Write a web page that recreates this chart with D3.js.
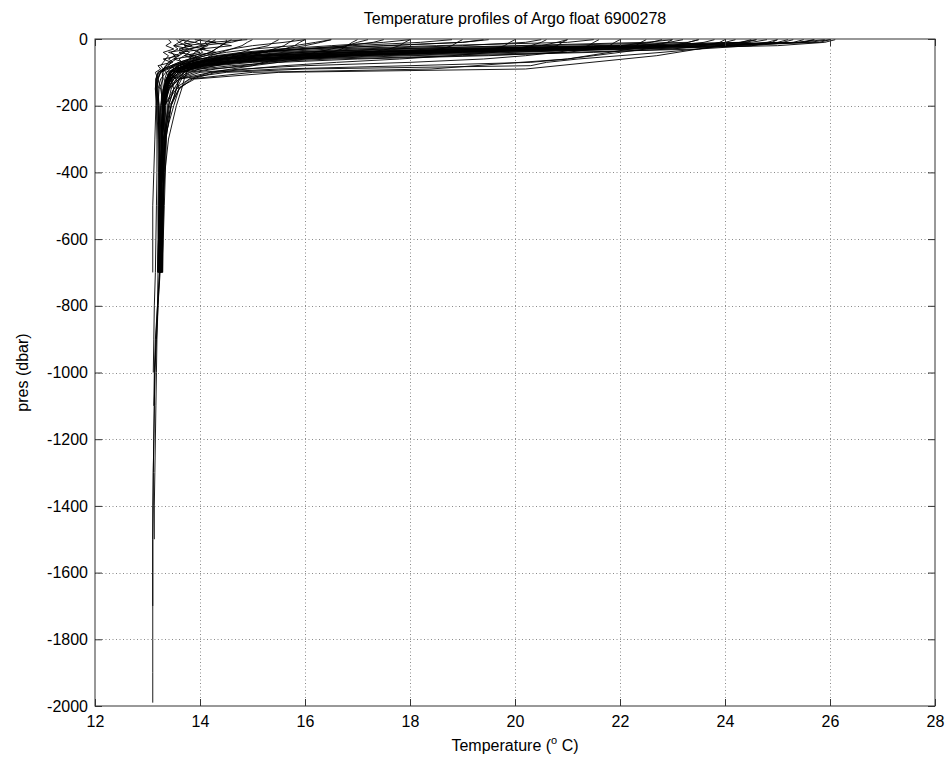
<!DOCTYPE html>
<html><head><meta charset="utf-8">
<script src="https://cdn.jsdelivr.net/npm/d3@7"></script>
<style>body{margin:0;background:#fff} text{font-family:"Liberation Sans",Arial,Helvetica,sans-serif}</style>
</head><body><svg id="c" width="950" height="767"></svg>
<script>
// pressure levels (dbar) of the sampled points, drawn as negative pressure
const pressureLevels = [2, 10, 20, 30, 40, 50, 60, 70, 80, 90, 100, 120, 150, 200, 300, 400, 500, 600, 700];
const deepLevels = [800, 900, 1000, 1100, 1200, 1300, 1400, 1500, 1600, 1700, 1800, 1900, 1990];
const xTicks = [12, 14, 16, 18, 20, 22, 24, 26, 28];
const yTicks = [0, -200, -400, -600, -800, -1000, -1200, -1400, -1600, -1800, -2000];

// temperature (deg C) at pressureLevels; null = level not sampled
const summerProfiles = [
  [26.0, 25.8, 24.0, 20.5, 17.5, 15.8, 14.8, 14.2, 13.8, 13.6, 13.5, 13.4, 13.35, 13.3, 13.28, 13.27, 13.26, 13.25, 13.24],
  [25.7, 25.5, 22.5, 19.0, 16.8, 15.2, 14.5, 14.0, 13.7, 13.5, 13.45, 13.38, 13.32, 13.3, 13.27, 13.26, 13.25, 13.24, 13.23],
  [25.2, 25.0, 24.2, 21.0, 18.0, 16.0, 15.0, 14.3, 13.9, 13.7, 13.55, 13.42, 13.35, 13.31, 13.29, 13.27, 13.26, 13.25, 13.24],
  [24.8, 24.5, 23.0, 20.0, 17.0, 15.5, 14.6, 14.1, 13.8, 13.6, 13.5, 13.4, 13.33, 13.3, 13.28, 13.27, 13.26, 13.25, 13.25],
  [24.5, 24.3, 21.5, 18.5, 16.5, 15.2, 14.4, 13.9, 13.7, 13.55, 13.45, 13.38, 13.32, 13.29, 13.27, 13.26, 13.25, 13.24, 13.23],
  [26.1, 25.9, 25.0, 22.0, 19.0, 16.8, 15.5, 14.6, 14.0, 13.7, 13.55, 13.45, 13.36, 13.31, 13.28, 13.27, 13.26, 13.25, 13.24],
  [23.8, 23.6, 23.0, 21.0, 18.5, 16.5, 15.2, 14.4, 13.9, 13.65, 13.5, 13.4, 13.34, 13.3, 13.28, 13.27, 13.26, 13.25, 13.24],
  [23.5, 23.3, 20.5, 17.5, 15.8, 14.8, 14.2, 13.9, 13.7, 13.55, 13.45, 13.38, 13.32, 13.29, 13.27, 13.26, 13.25, 13.24, 13.24],
  [25.5, 25.3, 24.5, 22.5, 19.5, 17.0, 15.5, 14.6, 14.0, 13.7, 13.55, 13.42, 13.35, 13.3, 13.28, 13.27, 13.26, 13.25, 13.24],
  [24.2, 24.0, 23.5, 21.5, 18.0, 15.8, 14.8, 14.2, 13.85, 13.65, 13.5, 13.4, 13.33, 13.3, 13.28, 13.27, 13.26, 13.25, 13.24],
  [26.0, 25.6, 23.0, 19.5, 17.0, 15.5, 14.6, 14.1, 13.8, 13.6, 13.5, 13.4, 13.33, 13.3, 13.28, 13.27, 13.26, 13.25, 13.24],
  [22.8, 22.6, 22.0, 19.0, 16.5, 15.0, 14.3, 13.9, 13.7, 13.55, 13.45, 13.38, 13.32, 13.29, 13.27, 13.26, 13.25, 13.24, 13.23],
  [24.0, 23.9, 23.6, 23.0, 21.5, 19.0, 16.5, 15.0, 14.3, 13.9, 13.65, 13.45, 13.36, 13.3, 13.28, 13.27, 13.26, 13.25, 13.24],
  [25.0, 24.9, 24.5, 23.5, 21.0, 18.0, 16.0, 14.8, 14.1, 13.8, 13.6, 13.45, 13.36, 13.3, 13.28, 13.27, 13.26, 13.25, 13.24],
  [25.9, 25.4, 24.0, 21.8, 18.8, 16.2, 15.0, 14.4, 13.9, 13.65, 13.5, 13.4, 13.33, 13.3, 13.28, 13.27, 13.26, 13.25, 13.24],
  [24.6, 24.4, 22.0, 18.0, 16.0, 15.0, 14.4, 14.0, 13.75, 13.6, 13.48, 13.39, 13.33, 13.3, 13.27, 13.26, 13.25, 13.24, 13.24],
  [23.0, 22.9, 22.4, 20.8, 18.2, 16.4, 15.3, 14.6, 14.1, 13.8, 13.6, 13.48, 13.38, 13.34, 13.31, 13.3, 13.29, 13.28, 13.27],
  [25.3, 25.1, 23.8, 20.2, 17.4, 15.9, 15.0, 14.5, 14.1, 13.85, 13.65, 13.5, 13.4, 13.35, 13.32, 13.3, 13.29, 13.28, 13.27]
];
const autumnProfiles = [
  [24.6, null, null, null, null, 22.7, null, null, null, 20.2, 15.5, 13.9, 13.55, 13.32, 13.28, 13.27, 13.26, 13.25, 13.24],
  [23.5, 23.3, 23.0, 22.5, 22.0, 21.5, 21.0, 20.3, 18.0, 15.5, 14.2, 13.6, 13.4, 13.3, 13.28, 13.27, 13.26, 13.25, 13.24],
  [25.0, 24.8, 24.0, 23.5, 22.8, 22.0, 21.2, 20.6, 20.3, 16.0, 14.5, 13.6, 13.4, 13.32, 13.28, 13.27, 13.26, 13.25, 13.24],
  [22.0, 21.9, 21.8, 21.5, 21.0, 19.5, 17.0, 15.5, 14.6, 14.0, 13.7, 13.5, 13.38, 13.31, 13.28, 13.27, 13.26, 13.25, 13.24],
  [21.0, 20.9, 20.8, 20.5, 19.0, 17.0, 15.5, 14.6, 14.1, 13.8, 13.6, 13.45, 13.36, 13.3, 13.28, 13.27, 13.26, 13.25, 13.24],
  [20.0, 19.9, 19.8, 19.6, 18.5, 16.5, 15.0, 14.3, 13.9, 13.7, 13.55, 13.42, 13.35, 13.3, 13.28, 13.27, 13.26, 13.25, 13.24],
  [19.0, 18.9, 18.8, 18.6, 18.2, 17.0, 15.5, 14.5, 14.0, 13.7, 13.55, 13.42, 13.35, 13.3, 13.28, 13.27, 13.26, 13.25, 13.24],
  [22.5, 22.4, 22.3, 22.0, 20.0, 17.5, 15.8, 14.8, 14.2, 13.85, 13.6, 13.45, 13.36, 13.3, 13.28, 13.27, 13.26, 13.25, 13.24],
  [18.0, 17.9, 17.8, 17.6, 17.2, 16.8, 16.0, 15.5, 15.0, 14.2, 13.8, 13.5, 13.38, 13.31, 13.28, 13.27, 13.26, 13.25, 13.24],
  [17.0, 16.9, 16.8, 16.7, 16.5, 16.2, 15.8, 15.3, 14.8, 14.3, 13.9, 13.55, 13.4, 13.32, 13.28, 13.27, 13.26, 13.25, 13.24],
  [23.2, null, 22.6, null, null, null, 21.0, 20.1, null, 18.4, 15.0, 13.8, 13.5, 13.32, 13.28, 13.27, 13.26, 13.25, 13.24],
  [21.6, 21.5, 21.4, 21.2, 20.8, 20.2, 19.4, 18.0, 16.0, 14.8, 14.0, 13.6, 13.42, 13.31, 13.28, 13.27, 13.26, 13.25, 13.24],
  [17.2, 17.0, 16.8, 16.5, 16.2, 15.9, 15.5, 15.2, 15.0, 14.6, 14.2, 13.8, 13.6, 13.42, 13.33, 13.3, 13.29, 13.28, 13.27],
  [20.6, 20.5, 20.3, 20.0, 19.6, 18.8, 17.8, 16.6, 15.6, 14.9, 14.3, 13.85, 13.6, 13.45, 13.35, 13.32, 13.3, 13.29, 13.28]
];
const springProfiles = [
  [21.5, 21.0, 18.5, 16.5, 15.3, 14.6, 14.2, 13.9, 13.7, 13.55, 13.45, 13.38, 13.32, 13.29, 13.27, 13.26, 13.25, 13.24, 13.23],
  [19.5, 19.0, 17.5, 16.0, 15.0, 14.4, 14.0, 13.8, 13.6, 13.5, 13.42, 13.36, 13.31, 13.29, 13.27, 13.26, 13.25, 13.24, 13.23],
  [18.0, 17.5, 16.5, 15.5, 14.8, 14.3, 14.0, 13.75, 13.6, 13.5, 13.42, 13.36, 13.31, 13.29, 13.27, 13.26, 13.25, 13.24, 13.24],
  [16.5, 16.2, 15.8, 15.0, 14.5, 14.1, 13.85, 13.65, 13.5, 13.42, 13.37, 13.33, 13.3, 13.28, 13.27, 13.26, 13.25, 13.24, 13.23],
  [23.0, 22.5, 20.0, 17.5, 16.0, 15.0, 14.4, 14.0, 13.75, 13.6, 13.5, 13.4, 13.33, 13.3, 13.28, 13.27, 13.26, 13.25, 13.24],
  [20.5, 20.2, 19.0, 17.0, 15.6, 14.8, 14.3, 14.0, 13.8, 13.62, 13.5, 13.4, 13.33, 13.29, 13.27, 13.26, 13.25, 13.24, 13.23],
  [17.5, 17.3, 16.8, 16.0, 15.2, 14.6, 14.2, 13.9, 13.7, 13.55, 13.45, 13.38, 13.32, 13.29, 13.27, 13.26, 13.25, 13.24, 13.23],
  [16.0, 15.6, 15.0, 14.6, 14.4, 14.2, 14.1, 14.0, 13.9, 13.8, 13.75, 13.62, 13.5, 13.4, 13.34, 13.31, 13.3, 13.29, 13.28],
  [18.8, 18.2, 16.9, 15.8, 15.1, 14.7, 14.4, 14.2, 14.0, 13.85, 13.7, 13.55, 13.45, 13.38, 13.33, 13.31, 13.3, 13.29, 13.28]
];
const winterProfiles = [
  [13.55, 13.6, 13.5, 13.58, 13.45, 13.52, 13.4, 13.48, 13.35, 13.3, 13.28, 13.3, 13.22, 13.2, 13.22, 13.24, 13.23, 13.22, 13.22],
  [14.2, 14.1, 14.15, 14.0, 14.05, 13.9, 13.95, 13.8, 13.7, 13.6, 13.5, 13.4, 13.3, 13.25, 13.23, 13.22, 13.22, 13.21, 13.2],
  [13.8, 13.7, 13.85, 13.6, 13.7, 13.5, 13.55, 13.45, 13.4, 13.3, 13.25, 13.2, 13.18, 13.16, 13.14, 13.12, 13.1, 13.1, 13.1],
  [15.0, 14.9, 14.8, 14.6, 14.3, 14.1, 13.9, 13.7, 13.5, 13.35, 13.25, 13.2, 13.18, 13.2, 13.22, 13.23, 13.22, 13.22, 13.21],
  [14.5, 14.5, 14.4, 14.3, 14.2, 14.0, 13.8, 13.6, 13.45, 13.3, 13.2, 13.16, 13.15, 13.18, 13.2, 13.21, 13.2, 13.2, 13.19],
  [13.4, 13.45, 13.35, 13.5, 13.3, 13.4, 13.35, 13.3, 13.25, 13.3, 13.35, 13.45, 13.5, 13.4, 13.3, 13.27, 13.26, 13.25, 13.24],
  [13.7, 13.6, 13.75, 13.65, 13.8, 13.7, 13.6, 13.65, 13.55, 13.6, 13.7, 13.6, 13.55, 13.45, 13.3, 13.27, 13.26, 13.25, 13.24],
  [15.5, 15.4, 15.3, 15.0, 14.8, 14.5, 14.2, 13.9, 13.6, 13.4, 13.25, 13.18, 13.17, 13.2, 13.22, 13.23, 13.22, 13.21, 13.2],
  [16.0, 15.9, 15.8, 15.6, 15.2, 14.8, 14.4, 14.0, 13.7, 13.5, 13.35, 13.25, 13.2, 13.22, 13.24, 13.24, 13.23, 13.22, 13.21],
  [14.8, 14.6, 14.0, 13.8, 13.7, 13.6, 13.5, 13.4, 13.35, 13.3, 13.3, 13.28, 13.27, 13.26, 13.26, 13.25, 13.25, 13.24, 13.23],
  [13.9, 14.3, 13.7, 14.1, 13.6, 13.9, 13.5, 13.7, 13.45, 13.5, 13.4, 13.55, 13.6, 13.5, 13.32, 13.28, 13.27, 13.26, 13.25],
  [14.9, 14.2, 14.6, 14.0, 14.3, 13.8, 14.0, 13.7, 13.6, 13.5, 13.45, 13.42, 13.38, 13.32, 13.29, 13.27, 13.26, 13.25, 13.24],
  [16.5, 16.3, 16.0, 15.6, 15.0, 14.5, 14.1, 13.8, 13.55, 13.35, 13.22, 13.17, 13.18, 13.22, 13.24, 13.24, 13.23, 13.22, 13.21],
  [15.8, 15.7, 15.6, 15.4, 15.2, 15.0, 14.8, 14.6, 14.3, 14.0, 13.8, 13.65, 13.55, 13.45, 13.35, 13.3, 13.28, 13.27, 13.26],
  [14.0, 13.9, 14.1, 13.8, 14.0, 13.7, 13.9, 13.8, 13.75, 13.7, 13.75, 13.7, 13.65, 13.55, 13.4, 13.33, 13.3, 13.28, 13.27],
  [13.6, 13.9, 13.5, 13.8, 13.4, 13.6, 13.3, 13.45, 13.2, 13.25, 13.15, 13.2, 13.25, 13.3, 13.36, 13.34, 13.32, 13.3, 13.29]
];
// profiles sampled below 700 dbar: values at pressureLevels then deepLevels
const deepProfiles = [
  [25.7, 25.4, 22.8, 19.4, 17.0, 15.4, 14.6, 14.1, 13.75, 13.55, 13.45, 13.38, 13.32, 13.3, 13.27, 13.26, 13.25, 13.24, 13.23,
   13.2, 13.17, 13.14, 13.13, 13.12, 13.11, 13.11, 13.1, 13.1, 13.1, 13.1, 13.1, 13.1],
  [14.3, 14.2, 14.1, 14.0, 13.9, 13.85, 13.8, 13.7, 13.6, 13.5, 13.42, 13.35, 13.3, 13.26, 13.24, 13.23, 13.22, 13.21, 13.2,
   13.19, 13.16, 13.14, 13.13, 13.12, 13.11, 13.1, 13.1, 13.1, 13.1],
  [21.0, 20.8, 20.5, 19.8, 18.4, 16.6, 15.2, 14.4, 14.0, 13.72, 13.56, 13.43, 13.35, 13.3, 13.28, 13.27, 13.26, 13.25, 13.24,
   13.2, 13.18, 13.17, 13.16, 13.15, 13.14, 13.13, 13.13],
  [19.4, 19.0, 17.6, 16.0, 15.0, 14.4, 14.0, 13.8, 13.6, 13.5, 13.42, 13.36, 13.31, 13.29, 13.27, 13.26, 13.25, 13.24, 13.23,
   13.19, 13.15, 13.13, 13.12],
  [14.6, 14.5, 14.4, 14.3, 14.2, 14.0, 13.8, 13.6, 13.45, 13.3, 13.2, 13.16, 13.15, 13.17, 13.18, 13.18, 13.17, 13.16, 13.15,
   13.13, 13.12, 13.11]
];

const svg = d3.select("#c");
const x = d3.scaleLinear().domain([12, 28]).range([95, 935]);
const y = d3.scaleLinear().domain([-2000, 0]).range([706, 39]);
const allLevels = pressureLevels.concat(deepLevels);

// grid
const grid = svg.append("g").attr("stroke", "#8a8a8a").attr("stroke-width", 1).attr("stroke-dasharray", "1,2.5");
grid.selectAll(".gx").data(xTicks.slice(1, -1)).join("line")
  .attr("x1", d => Math.round(x(d)) + 0.5).attr("x2", d => Math.round(x(d)) + 0.5)
  .attr("y1", y(0)).attr("y2", y(-2000));
grid.selectAll(".gy").data(yTicks.slice(1, -1)).join("line")
  .attr("y1", d => Math.round(y(d)) + 0.5).attr("y2", d => Math.round(y(d)) + 0.5)
  .attr("x1", x(12)).attr("x2", x(28));

// profiles
const line = d3.line().x(d => x(d[0])).y(d => y(-d[1]));
const groups = [summerProfiles, autumnProfiles, springProfiles, winterProfiles, deepProfiles];
const prof = svg.append("g").attr("fill", "none").attr("stroke", "#000").attr("stroke-width", 0.9);
groups.forEach(g => g.forEach(temps => {
  const pts = temps.map((t, i) => [t, allLevels[i]]).filter(d => d[0] !== null);
  prof.append("path").attr("d", line(pts));
}));

// axes (MATLAB-style inward ticks on all sides)
const fs = 16;
const fmt = d => String(d);
const ax = svg.append("g").attr("transform", `translate(0,${y(-2000)})`)
  .call(d3.axisBottom(x).tickValues(xTicks).tickSize(-7).tickPadding(10).tickFormat(fmt));
const ay = svg.append("g").attr("transform", `translate(${x(12)},0)`)
  .call(d3.axisLeft(y).tickValues(yTicks).tickSize(-7).tickPadding(7).tickFormat(fmt));
const at = svg.append("g").attr("transform", `translate(0,${y(0)})`)
  .call(d3.axisTop(x).tickValues(xTicks).tickSize(-7).tickFormat(""));
const ar = svg.append("g").attr("transform", `translate(${x(28)},0)`)
  .call(d3.axisRight(y).tickValues(yTicks).tickSize(-7).tickFormat(""));
[ax, ay, at, ar].forEach(a => {
  a.select(".domain").remove();
  a.selectAll(".tick line").attr("stroke", "#333");
  a.selectAll("text").attr("font-size", fs).attr("fill", "#000")
    .attr("font-family", '"Liberation Sans", Arial, sans-serif');
});
svg.append("rect").attr("x", x(12)).attr("y", y(0)).attr("width", x(28) - x(12)).attr("height", y(-2000) - y(0))
  .attr("fill", "none").attr("stroke", "#333").attr("stroke-width", 1);

// titles
svg.append("text").attr("x", (x(12) + x(28)) / 2).attr("y", 24).attr("text-anchor", "middle")
  .attr("font-size", fs).text("Temperature profiles of Argo float 6900278");
const xl = svg.append("text").attr("x", (x(12) + x(28)) / 2).attr("y", 751).attr("text-anchor", "middle").attr("font-size", fs);
xl.append("tspan").text("Temperature (");
xl.append("tspan").attr("font-size", 11).attr("dy", -7).text("o");
xl.append("tspan").attr("dy", 7).text(" C)");
svg.append("text").attr("transform", `translate(28,${(y(0) + y(-2000)) / 2}) rotate(-90)`)
  .attr("text-anchor", "middle").attr("font-size", fs).text("pres (dbar)");
</script></body></html>
